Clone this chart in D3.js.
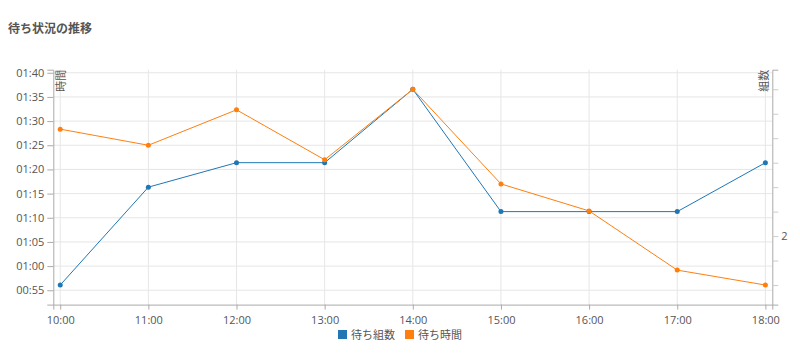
<!DOCTYPE html>
<html><head><meta charset="utf-8">
<script src="https://cdn.jsdelivr.net/npm/d3@7"></script>
<style>
body{margin:0;background:#fff;}
svg text{font-family:"Open Sans","Noto Sans CJK JP",sans-serif;}
</style>
</head><body>
<svg id="c" width="800" height="360"></svg>
<script>
const title = "待ち状況の推移";
const categories = ["10:00","11:00","12:00","13:00","14:00","15:00","16:00","17:00","18:00"];
const waitGroups = [1.8, 2.2, 2.3, 2.3, 2.6, 2.1, 2.1, 2.1, 2.3];
const waitTimes = ["01:28:20","01:25:00","01:32:20","01:22:00","01:36:35","01:17:00","01:11:25","00:59:10","00:56:05"];
const leftTickLabels = ["00:55","01:00","01:05","01:10","01:15","01:20","01:25","01:30","01:35","01:40"];
const rightTickValues = [1.8, 1.9, 2.0, 2.1, 2.2, 2.3, 2.4, 2.5, 2.6];
const seriesNames = ["待ち組数","待ち時間"];
const seriesColors = ["#1f77b4","#ff7f0e"];
const leftAxisLabel = "時間";
const rightAxisLabel = "組数";

const toMin = s => { const p = s.split(":").map(Number); return p[0]*60 + p[1] + (p[2]||0)/60; };
const fmtMin = m => { const h = Math.floor(Math.round(m)/60), mm = Math.round(m)%60; return String(h).padStart(2,"0")+":"+String(mm).padStart(2,"0"); };
const timeVals = waitTimes.map(toMin);

const svg = d3.select("#c");
const L = 53.3, R = 772.3, T = 69.7, B = 304.6;
const textColor = "#555";

svg.append("text").attr("x", 8).attr("y", 33).text(title)
  .attr("font-size", 12).attr("font-weight", "bold").attr("fill", "#555");

const n = categories.length;
const xpad = 0.0785;
const x = d3.scaleLinear().domain([-xpad, n - 1 + xpad]).range([L, R]);

const tMin = d3.min(timeVals), tMax = d3.max(timeVals), tr = tMax - tMin;
const yL = d3.scaleLinear().domain([tMin - tr*0.1, tMax + tr*0.1]).range([B, T]);
const gMin = d3.min(waitGroups), gMax = d3.max(waitGroups), gr = gMax - gMin;
const yR = d3.scaleLinear().domain([gMin - gr*0.1, gMax + gr*0.1]).range([B, T]);

const leftTickVals = leftTickLabels.map(toMin);

// grids
const grid = svg.append("g");
grid.selectAll(".gy").data(leftTickVals).enter().append("line")
  .attr("x1", L).attr("x2", R).attr("y1", d => yL(d)).attr("y2", d => yL(d))
  .attr("stroke", "#e6e6e6").attr("stroke-width", 1);
grid.selectAll(".gx").data(categories).enter().append("line")
  .attr("x1", (d,i) => x(i)).attr("x2", (d,i) => x(i)).attr("y1", T).attr("y2", B)
  .attr("stroke", "#e6e6e6").attr("stroke-width", 1);

function styleAxis(g){
  g.selectAll("path").attr("stroke", "#aaa");
  g.selectAll("line").attr("stroke", "#aaa");
  g.selectAll("text").attr("fill", textColor).attr("font-size", 11);
}

// x axis
const xAxis = d3.axisBottom(x).tickValues(d3.range(n)).tickFormat(i => categories[i]).tickSizeOuter(0).tickSize(5);
svg.append("g").attr("transform", `translate(0,${B})`).call(xAxis).call(styleAxis)
  .selectAll("text").attr("dy", "1.05em");

// left axis
const lAxis = d3.axisLeft(yL).tickValues(leftTickVals).tickFormat(fmtMin).tickSize(6).tickSizeOuter(6);
svg.append("g").attr("transform", `translate(${L},0)`).call(lAxis).call(styleAxis);

// right axis
const rAxis = d3.axisRight(yR).tickValues(rightTickValues)
  .tickFormat(d => Math.abs(d - Math.round(d)) < 1e-9 ? String(Math.round(d)) : "").tickSize(6).tickSizeOuter(6);
const rg = svg.append("g").attr("transform", `translate(${R},0)`).call(rAxis).call(styleAxis);
rg.selectAll(".tick line").attr("stroke", "#ccc");

// axis labels
svg.append("text").attr("transform", `translate(${L},${T}) rotate(-90)`)
  .attr("text-anchor", "end").attr("dy", "1.1em").attr("font-size", 11).attr("fill", textColor)
  .text(leftAxisLabel);
svg.append("text").attr("transform", `translate(${R},${T}) rotate(-90)`)
  .attr("text-anchor", "end").attr("dy", "-0.35em").attr("font-size", 11).attr("fill", textColor)
  .text(rightAxisLabel);

// lines
const series = [
  {name: seriesNames[0], color: seriesColors[0], vals: waitGroups, y: yR},
  {name: seriesNames[1], color: seriesColors[1], vals: timeVals, y: yL}
];
series.forEach(s => {
  const line = d3.line().x((d,i) => x(i)).y(d => s.y(d));
  svg.append("path").datum(s.vals).attr("d", line).attr("fill", "none")
    .attr("stroke", s.color).attr("stroke-width", 1);
  svg.selectAll(null).data(s.vals).enter().append("circle")
    .attr("cx", (d,i) => x(i)).attr("cy", d => s.y(d)).attr("r", 2.5).attr("fill", s.color);
});

// legend
const lg = svg.append("g");
const items = [];
let cx = 0;
series.forEach((s, i) => {
  const g = lg.append("g").attr("transform", `translate(${cx},0)`);
  g.append("rect").attr("x", 0).attr("y", -5).attr("width", 9).attr("height", 9).attr("fill", s.color);
  const t = g.append("text").attr("x", 13).attr("y", 4).attr("font-size", 11).attr("fill", textColor).text(s.name);
  const w = t.node().getComputedTextLength();
  cx += 13 + w + 10;
});
const totalW = cx - 10;
lg.attr("transform", `translate(${400 - totalW/2},${335})`);
</script>
</body></html>
